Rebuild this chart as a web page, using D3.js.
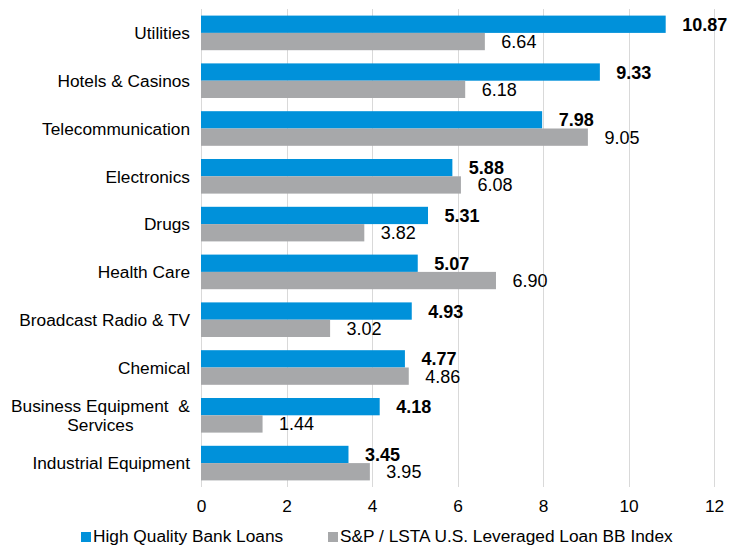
<!DOCTYPE html>
<html>
<head>
<meta charset="utf-8">
<script src="https://cdn.jsdelivr.net/npm/d3@7"></script>
<style>
  body { margin: 0; background: #fff; }
  svg { display: block; font-family: "Liberation Sans", Arial, sans-serif; }
</style>
</head>
<body>
<svg id="chart" width="742" height="546"></svg>
<script>
var categories = ['Utilities', 'Hotels & Casinos', 'Telecommunication', 'Electronics', 'Drugs',
    'Health Care', 'Broadcast Radio & TV', 'Chemical', 'Business Equipment  &\nServices', 'Industrial Equipment']
var highQuality = [10.87, 9.33, 7.98, 5.88, 5.31, 5.07, 4.93, 4.77, 4.18, 3.45]
var bbIndex = [6.64, 6.18, 9.05, 6.08, 3.82, 6.90, 3.02, 4.86, 1.44, 3.95]
var xTicks = [0, 2, 4, 6, 8, 10, 12]
var seriesNames = ['High Quality Bank Loans', 'S&P / LSTA U.S. Leveraged Loan BB Index']
var seriesColors = ['#0091da', '#a7a8aa']

var svg = d3.select('#chart')
var margin = {top: 9, left: 201, right: 28, bottom: 59}
var width = 742 - margin.left - margin.right
var height = 546 - margin.top - margin.bottom
var g = svg.append('g').attr('transform', 'translate(' + margin.left + ',' + margin.top + ')')
var fs = 17.3

var x = d3.scaleLinear().domain([0, 12]).range([0, width])
var y = d3.scaleBand().domain(categories).range([0, height]).paddingInner(0.276).paddingOuter(0.138)
var sub = d3.scaleBand().domain([0, 1]).range([0, y.bandwidth()])

// grid lines (the 0 one doubles as the axis line)
g.append('g')
    .selectAll('line')
    .data(xTicks)
    .join('line')
    .attr('x1', d => Math.round(x(d)) + 0.5)
    .attr('x2', d => Math.round(x(d)) + 0.5)
    .attr('y1', 0)
    .attr('y2', height)
    .attr('stroke', '#d9d9d9')
    .attr('stroke-width', 1)

// x tick labels
g.append('g')
    .attr('transform', 'translate(0,' + height + ')')
    .call(d3.axisBottom(x).tickValues(xTicks).tickSize(0).tickPadding(0).tickFormat(d3.format('d')))
    .call(a => a.select('.domain').remove())
    .selectAll('text')
    .attr('dy', null)
    .attr('y', 25)
    .attr('font-size', fs)
    .attr('font-family', null)
    .attr('fill', '#000')

// bars + value labels
var series = [highQuality, bbIndex]
series.forEach(function(values, si) {
    var rows = categories.map((c, i) => ({cat: c, value: values[i]}))
    g.append('g')
        .selectAll('rect')
        .data(rows)
        .join('rect')
        .attr('x', 0)
        .attr('y', d => y(d.cat) + sub(si))
        .attr('width', d => x(d.value))
        .attr('height', sub.bandwidth())
        .attr('fill', seriesColors[si])
    g.append('g')
        .selectAll('text')
        .data(rows)
        .join('text')
        .attr('x', d => x(d.value) + 16.5)
        .attr('y', d => y(d.cat) + sub(si) + sub.bandwidth() / 2)
        .attr('dy', '0.36em')
        .attr('font-size', 18)
        .attr('font-weight', si === 0 ? 'bold' : 'normal')
        .attr('fill', '#000')
        .text(d => d.value.toFixed(2))
})

// category labels, multi-line ones centred on their widest line
categories.forEach(function(c) {
    var lines = c.split('\n')
    var cy = y(c) + y.bandwidth() / 2
    var t = g.append('text')
        .attr('font-size', fs)
        .attr('fill', '#000')
        .style('white-space', 'pre')
    if (lines.length === 1) {
        t.attr('x', -11).attr('y', cy).attr('dy', '0.36em').attr('text-anchor', 'end').text(c)
        return
    }
    var lh = 19
    lines.forEach(function(l, i) {
        t.append('tspan')
            .attr('x', 0)
            .attr('y', cy + (i - (lines.length - 1) / 2) * lh)
            .attr('dy', '0.36em')
            .text(l)
    })
    t.attr('text-anchor', 'middle')
    var w = t.node().getBBox().width
    t.selectAll('tspan').attr('x', -11 - w / 2)
})

// legend
var legendX = [81, 328]
var legend = svg.append('g')
seriesNames.forEach(function(name, i) {
    legend.append('rect')
        .attr('x', legendX[i])
        .attr('y', 532)
        .attr('width', 10)
        .attr('height', 10)
        .attr('fill', seriesColors[i])
    legend.append('text')
        .attr('x', legendX[i] + 12)
        .attr('y', 542)
        .attr('font-size', fs)
        .attr('fill', '#000')
        .text(name)
})
</script>
</body>
</html>
